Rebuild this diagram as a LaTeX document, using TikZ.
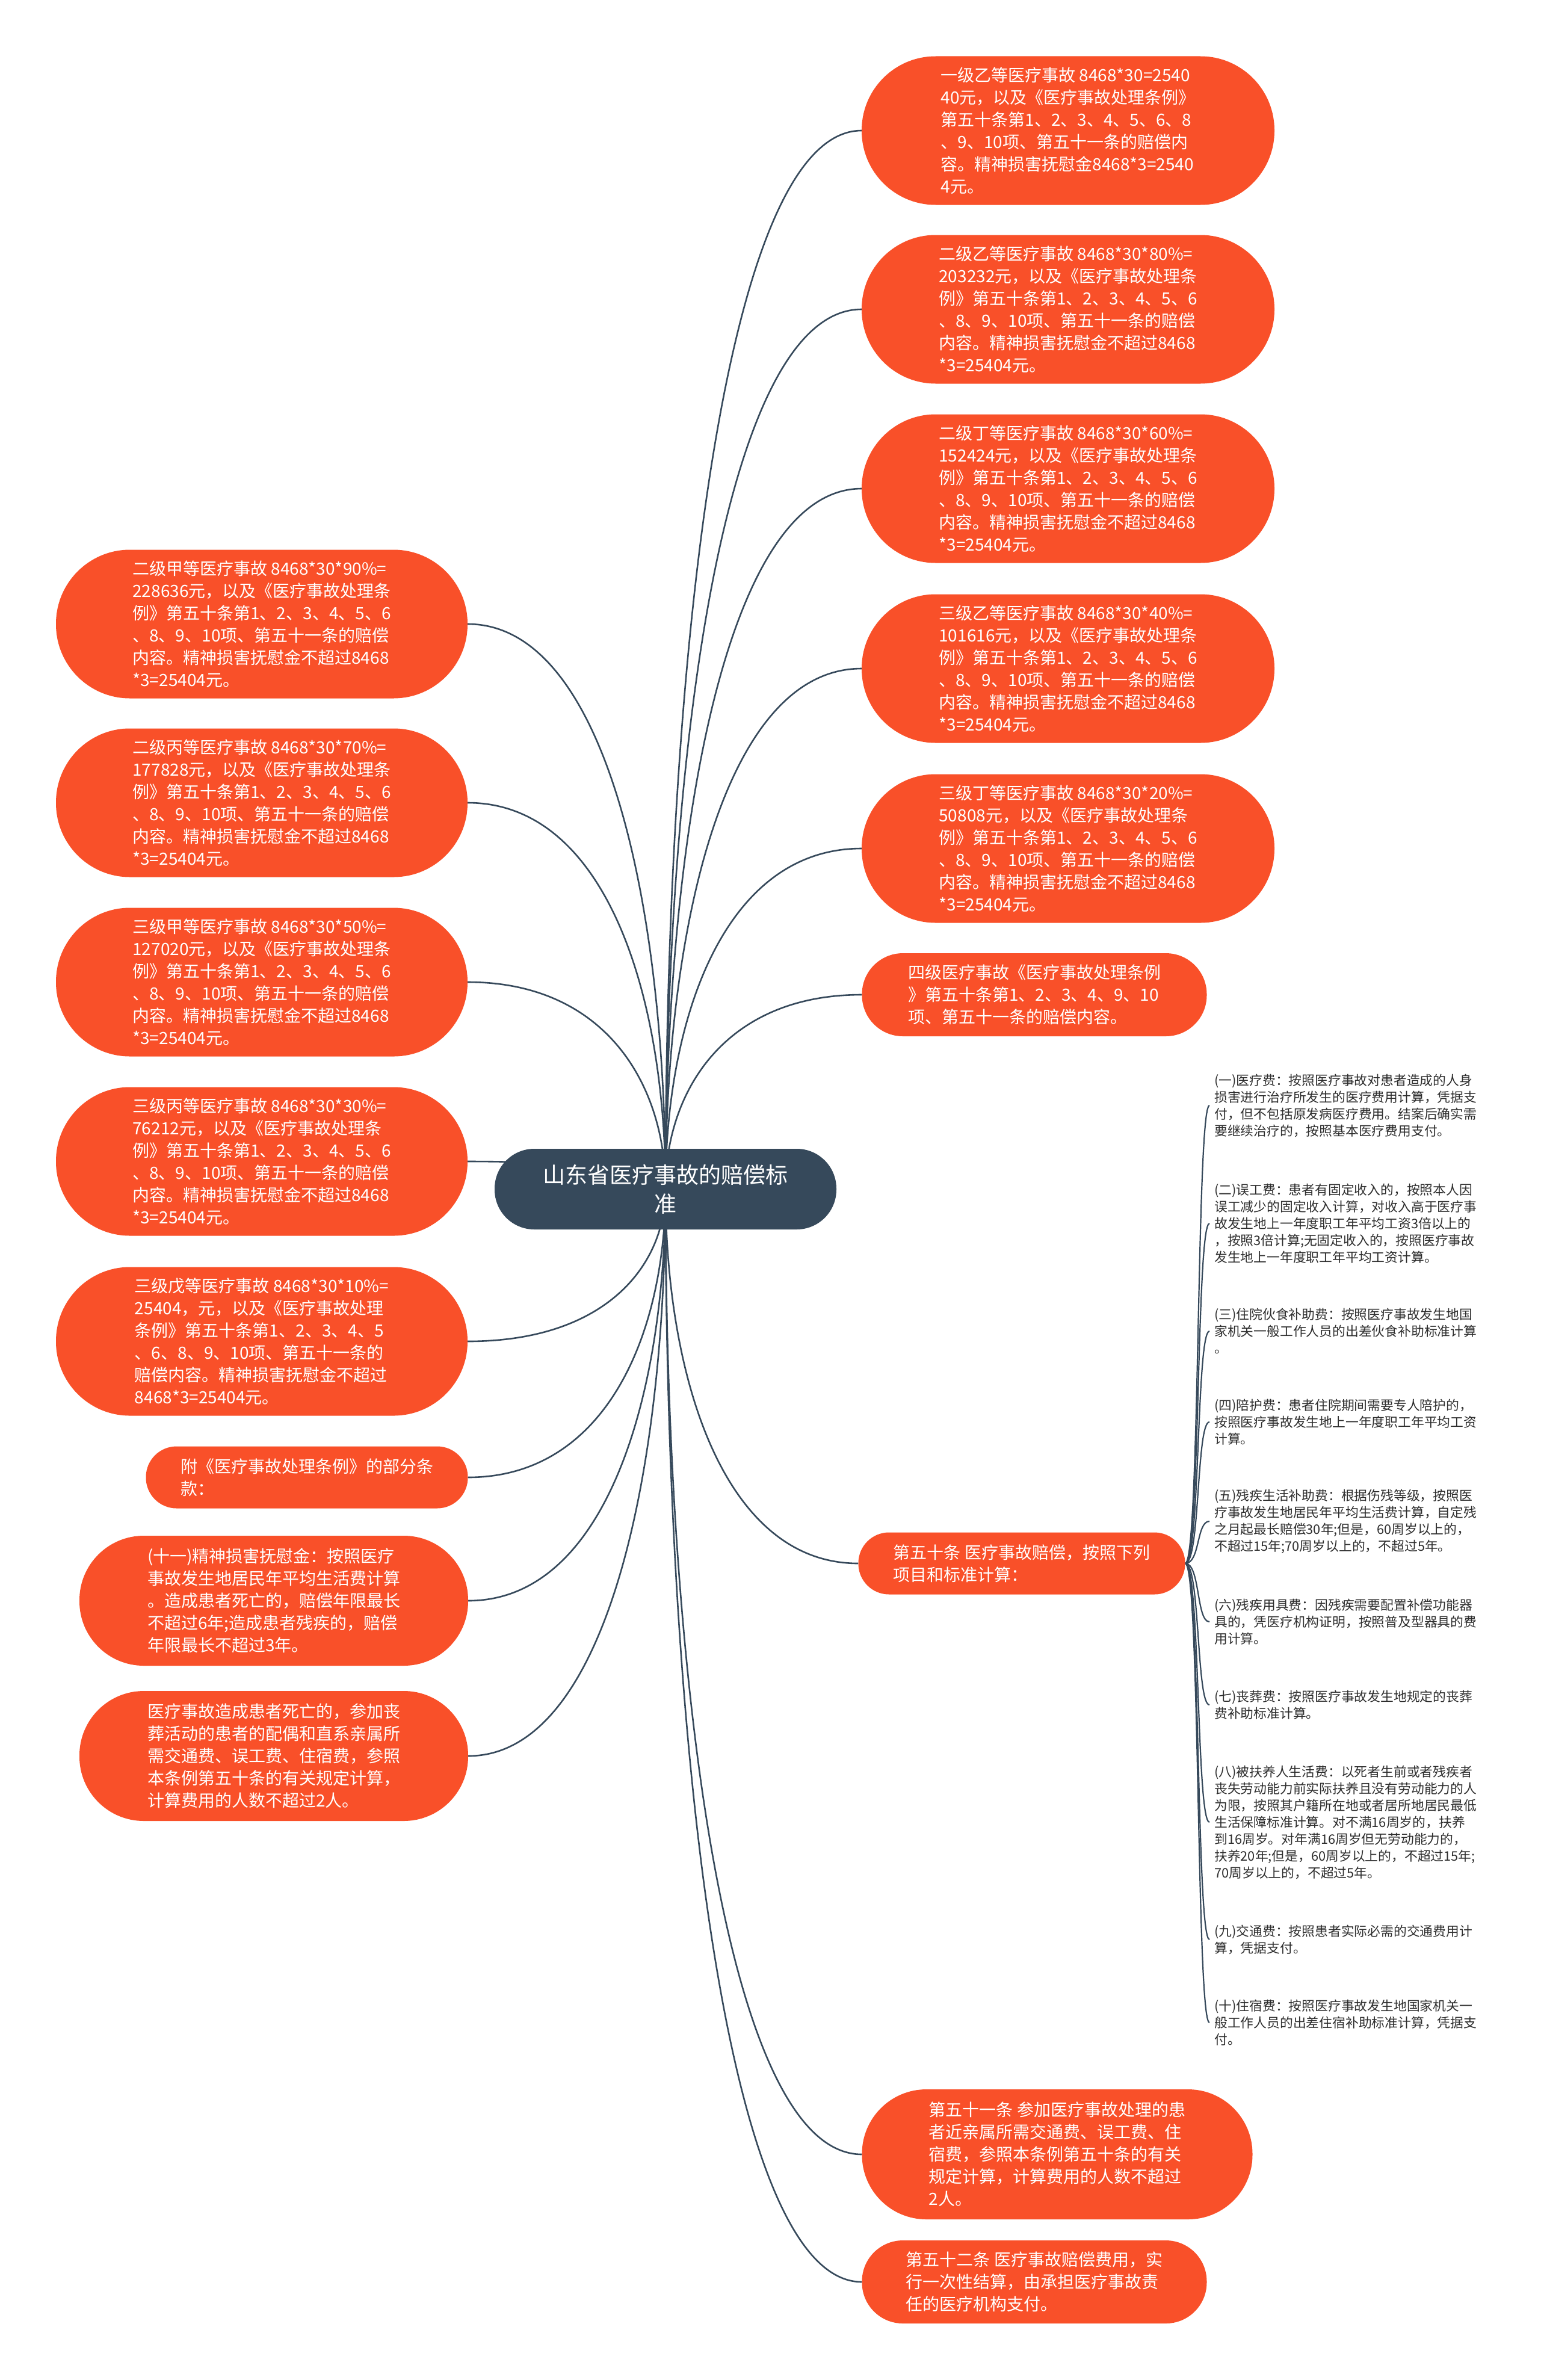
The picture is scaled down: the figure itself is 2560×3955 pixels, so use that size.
\documentclass[tikz,border=0pt]{standalone}
\usepackage{fontspec}
\setmainfont{Noto Sans CJK SC}
\usetikzlibrary{calc,backgrounds}
\definecolor{pillred}{RGB}{249,80,41}
\definecolor{rootblue}{RGB}{54,73,91}
\definecolor{subtext}{RGB}{45,45,45}
\tikzset{
  pill/.style={rectangle, fill=pillred, text=white, font=\fontsize{28}{37}\selectfont, align=left, inner sep=0pt},
  hsix/.style={minimum height=247pt, rounded corners=123pt},
  hfive/.style={minimum height=216pt, rounded corners=107pt},
  hthree/.style={minimum height=138pt, rounded corners=68pt},
  htwo/.style={minimum height=103pt, rounded corners=51pt},
  rootnode/.style={rectangle, fill=rootblue, text=white, minimum width=568pt, minimum height=134pt, rounded corners=66pt, align=center, font=\fontsize{37}{48}\selectfont, inner sep=0pt},
  subnode/.style={text=subtext, font=\fontsize{21.8}{28}\selectfont, align=left, anchor=west, inner xsep=8pt, inner ysep=0pt},
  link/.style={draw=rootblue, line width=2.6pt},
  sublink/.style={draw=rootblue, line width=2.2pt}
}
\newcommand{\rlink}[1]{\draw[link] (root.center) .. controls ($(root.center)!0.5!(root.center |- #1)$) and ($(#1)!0.7!(root.center |- #1)$) .. (#1);}
\newcommand{\clink}[1]{\draw[sublink] (r7.east) .. controls ($(r7.east)+(25,0)$) and ($(#1.west)+(-22,0)$) .. (#1.west);}
\begin{document}
\begin{tikzpicture}[x=1pt,y=-1pt]
\useasboundingbox (0,0) rectangle (2560,3955);

% root
\node[rootnode] (root) at (1106,1976) {山东省医疗事故的赔偿标\\准};

% right column
\node[pill,hsix,minimum width=686pt] (r1) at (1775,217) {一级乙等医疗事故 8468*30=2540\\40元，以及《医疗事故处理条例》\\第五十条第1、2、3、4、5、6、8\\、9、10项、第五十一条的赔偿内\\容。精神损害抚慰金8468*3=2540\\4元。};
\node[pill,hsix,minimum width=686pt] (r2) at (1775,514) {二级乙等医疗事故 8468*30*80\%=\\203232元，以及《医疗事故处理条\\例》第五十条第1、2、3、4、5、6\\、8、9、10项、第五十一条的赔偿\\内容。精神损害抚慰金不超过8468\\*3=25404元。};
\node[pill,hsix,minimum width=686pt] (r3) at (1775,812) {二级丁等医疗事故 8468*30*60\%=\\152424元，以及《医疗事故处理条\\例》第五十条第1、2、3、4、5、6\\、8、9、10项、第五十一条的赔偿\\内容。精神损害抚慰金不超过8468\\*3=25404元。};
\node[pill,hsix,minimum width=686pt] (r4) at (1775,1111) {三级乙等医疗事故 8468*30*40\%=\\101616元，以及《医疗事故处理条\\例》第五十条第1、2、3、4、5、6\\、8、9、10项、第五十一条的赔偿\\内容。精神损害抚慰金不超过8468\\*3=25404元。};
\node[pill,hsix,minimum width=686pt] (r5) at (1775,1410) {三级丁等医疗事故 8468*30*20\%=\\50808元，以及《医疗事故处理条\\例》第五十条第1、2、3、4、5、6\\、8、9、10项、第五十一条的赔偿\\内容。精神损害抚慰金不超过8468\\*3=25404元。};
\node[pill,hthree,minimum width=573pt] (r6) at (1719,1653) {四级医疗事故《医疗事故处理条例\\》第五十条第1、2、3、4、9、10\\项、第五十一条的赔偿内容。};
\node[pill,htwo,minimum width=543pt] (r7) at (1698,2598) {第五十条 医疗事故赔偿，按照下列\\项目和标准计算：};
\node[pill,hfive,minimum width=649pt] (r8) at (1757,3580) {第五十一条 参加医疗事故处理的患\\者近亲属所需交通费、误工费、住\\宿费，参照本条例第五十条的有关\\规定计算，计算费用的人数不超过\\2人。};
\node[pill,hthree,minimum width=573pt] (r9) at (1719,3792) {第五十二条 医疗事故赔偿费用，实\\行一次性结算，由承担医疗事故责\\任的医疗机构支付。};

% left column
\node[pill,hsix,minimum width=684pt] (l1) at (435,1037) {二级甲等医疗事故 8468*30*90\%=\\228636元，以及《医疗事故处理条\\例》第五十条第1、2、3、4、5、6\\、8、9、10项、第五十一条的赔偿\\内容。精神损害抚慰金不超过8468\\*3=25404元。};
\node[pill,hsix,minimum width=684pt] (l2) at (435,1334) {二级丙等医疗事故 8468*30*70\%=\\177828元，以及《医疗事故处理条\\例》第五十条第1、2、3、4、5、6\\、8、9、10项、第五十一条的赔偿\\内容。精神损害抚慰金不超过8468\\*3=25404元。};
\node[pill,hsix,minimum width=684pt] (l3) at (435,1632) {三级甲等医疗事故 8468*30*50\%=\\127020元，以及《医疗事故处理条\\例》第五十条第1、2、3、4、5、6\\、8、9、10项、第五十一条的赔偿\\内容。精神损害抚慰金不超过8468\\*3=25404元。};
\node[pill,hsix,minimum width=684pt] (l4) at (435,1930) {三级丙等医疗事故 8468*30*30\%=\\76212元，以及《医疗事故处理条\\例》第五十条第1、2、3、4、5、6\\、8、9、10项、第五十一条的赔偿\\内容。精神损害抚慰金不超过8468\\*3=25404元。};
\node[pill,hsix,minimum width=684pt] (l5) at (435,2229) {三级戊等医疗事故 8468*30*10\%=\\25404，元，以及《医疗事故处理\\条例》第五十条第1、2、3、4、5\\、6、8、9、10项、第五十一条的\\赔偿内容。精神损害抚慰金不超过\\8468*3=25404元。};
\node[pill,htwo,minimum width=535pt] (l6) at (510,2455) {附《医疗事故处理条例》的部分条\\款：};
\node[pill,hfive,minimum width=646pt] (l7) at (455,2660) {(十一)精神损害抚慰金：按照医疗\\事故发生地居民年平均生活费计算\\。造成患者死亡的，赔偿年限最长\\不超过6年;造成患者残疾的，赔偿\\年限最长不超过3年。};
\node[pill,hfive,minimum width=646pt] (l8) at (455,2918) {医疗事故造成患者死亡的，参加丧\\葬活动的患者的配偶和直系亲属所\\需交通费、误工费、住宿费，参照\\本条例第五十条的有关规定计算，\\计算费用的人数不超过2人。};

% children of r7
\node[subnode] (c1) at (2010,1837) {(一)医疗费：按照医疗事故对患者造成的人身\\损害进行治疗所发生的医疗费用计算，凭据支\\付，但不包括原发病医疗费用。结案后确实需\\要继续治疗的，按照基本医疗费用支付。};
\node[subnode] (c2) at (2010,2033) {(二)误工费：患者有固定收入的，按照本人因\\误工减少的固定收入计算，对收入高于医疗事\\故发生地上一年度职工年平均工资3倍以上的\\，按照3倍计算;无固定收入的，按照医疗事故\\发生地上一年度职工年平均工资计算。};
\node[subnode] (c3) at (2010,2212) {(三)住院伙食补助费：按照医疗事故发生地国\\家机关一般工作人员的出差伙食补助标准计算\\。};
\node[subnode] (c4) at (2010,2363) {(四)陪护费：患者住院期间需要专人陪护的，\\按照医疗事故发生地上一年度职工年平均工资\\计算。};
\node[subnode] (c5) at (2010,2528) {(五)残疾生活补助费：根据伤残等级，按照医\\疗事故发生地居民年平均生活费计算，自定残\\之月起最长赔偿30年;但是，60周岁以上的，\\不超过15年;70周岁以上的，不超过5年。};
\node[subnode] (c6) at (2010,2695) {(六)残疾用具费：因残疾需要配置补偿功能器\\具的，凭医疗机构证明，按照普及型器具的费\\用计算。};
\node[subnode] (c7) at (2010,2833) {(七)丧葬费：按照医疗事故发生地规定的丧葬\\费补助标准计算。};
\node[subnode] (c8) at (2010,3028) {(八)被扶养人生活费：以死者生前或者残疾者\\丧失劳动能力前实际扶养且没有劳动能力的人\\为限，按照其户籍所在地或者居所地居民最低\\生活保障标准计算。对不满16周岁的，扶养\\到16周岁。对年满16周岁但无劳动能力的，\\扶养20年;但是，60周岁以上的，不超过15年;\\70周岁以上的，不超过5年。};
\node[subnode] (c9) at (2010,3223) {(九)交通费：按照患者实际必需的交通费用计\\算，凭据支付。};
\node[subnode] (c10) at (2010,3361) {(十)住宿费：按照医疗事故发生地国家机关一\\般工作人员的出差住宿补助标准计算，凭据支\\付。};

\begin{scope}[on background layer]
\fill[white] (0,0) rectangle (2560,3955);
\rlink{r1.west}
\rlink{r2.west}
\rlink{r3.west}
\rlink{r4.west}
\rlink{r5.west}
\rlink{r6.west}
\rlink{r7.west}
\rlink{r8.west}
\rlink{r9.west}
\rlink{l1.east}
\rlink{l2.east}
\rlink{l3.east}
\rlink{l4.east}
\rlink{l5.east}
\rlink{l6.east}
\rlink{l7.east}
\rlink{l8.east}
\clink{c1}
\clink{c2}
\clink{c3}
\clink{c4}
\clink{c5}
\clink{c6}
\clink{c7}
\clink{c8}
\clink{c9}
\clink{c10}
\end{scope}
\end{tikzpicture}
\end{document}
